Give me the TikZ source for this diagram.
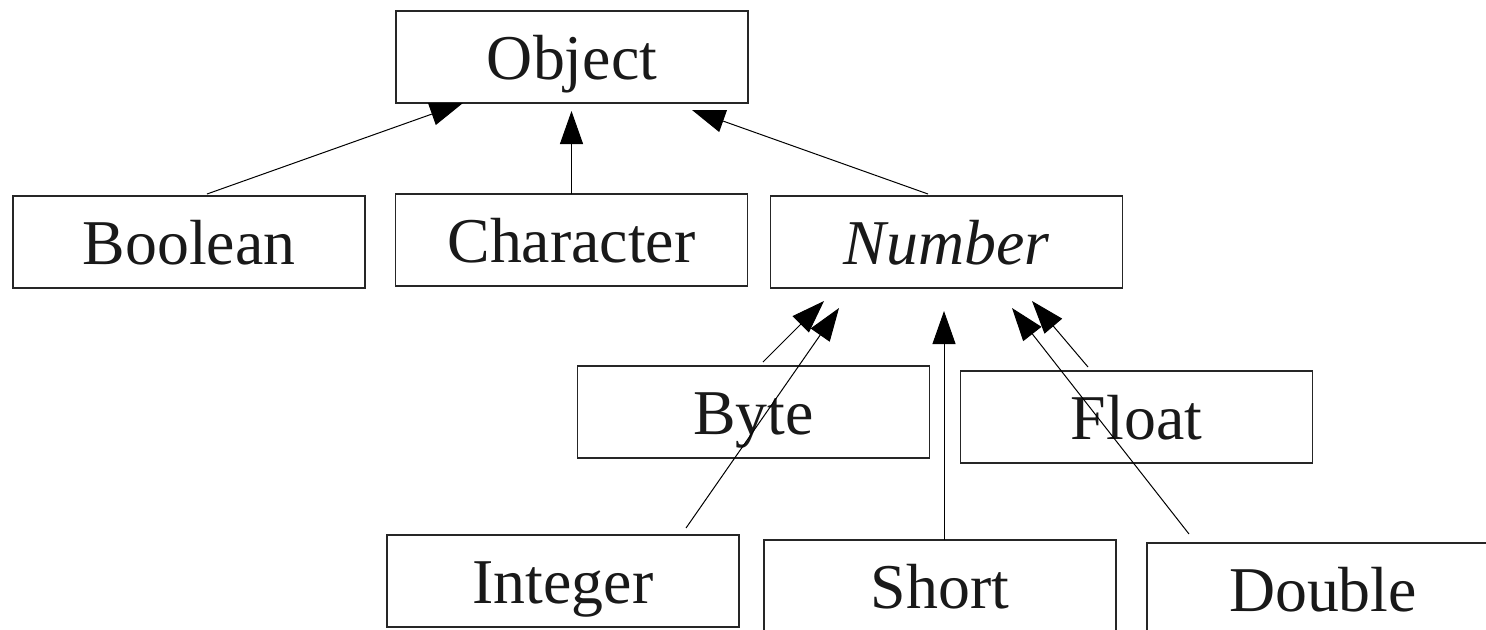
\documentclass[tikz,border=0pt]{standalone}
\usepackage{fontspec}
\setmainfont{Liberation Serif}
\usetikzlibrary{arrows.meta}

\begin{document}
\begin{tikzpicture}[
    x=0.5pt, y=-0.5pt
    , box/.style = {rectangle,draw=black!85,line width=0.7pt,minimum width=176pt,minimum height=46pt,inner sep=0pt,outer sep=0pt,text height=22pt,text depth=0pt,text=black!90,font=\fontsize{31.9}{38}\selectfont}
    , isa/.style = {draw=black,line width=0.5pt,-{Triangle[length=16.5pt,width=11.5pt]}}
]
\useasboundingbox (0,0) rectangle (1486,629);
\node[box] (object)    at (572,57)     {Object};
\node[box] (boolean)   at (189,242)    {Boolean};
\node[box] (character) at (571.5,240)  {Character};
\node[box] (number)    at (946.5,242)  {\itshape Number};
\node[box] (byte)      at (753.5,412)  {Byte};
\node[box] (float)     at (1136.5,417) {Float};
\node[box] (integer)   at (563,581)    {Integer};
\node[box] (short)     at (940,586)    {Short};
\node[box] (double)    at (1323,589)   {Double};
% arrows to Object
\draw[isa] ([xshift=9pt,yshift=1pt]boolean.north) -- ([xshift=-54.5pt]object.south);
\draw[isa,shorten >=4pt] (character.north) -- (character.north |- object.south);
\draw[isa] ([xshift=-9.25pt,yshift=1pt]number.north) -- ([xshift=60pt,yshift=-3.5pt]object.south);
% arrows to Number
\draw[isa] ([xshift=4.75pt,yshift=2pt]byte.north) -- ([xshift=-61.25pt,yshift=-6.5pt]number.south);
\draw[isa] ([xshift=61.5pt,yshift=3.5pt]integer.north) -- ([xshift=-53.75pt,yshift=-10pt]number.south);
\draw[isa,shorten >=11.5pt] ([xshift=2pt]short.north) -- ([xshift=2pt]short.north |- number.south);
\draw[isa] ([xshift=-67pt,yshift=4.5pt]double.north) -- ([xshift=32.75pt,yshift=-10pt]number.south);
\draw[isa] ([xshift=-24.25pt,yshift=2pt]float.north) -- ([xshift=42.75pt,yshift=-6.5pt]number.south);
\end{tikzpicture}
\end{document}
